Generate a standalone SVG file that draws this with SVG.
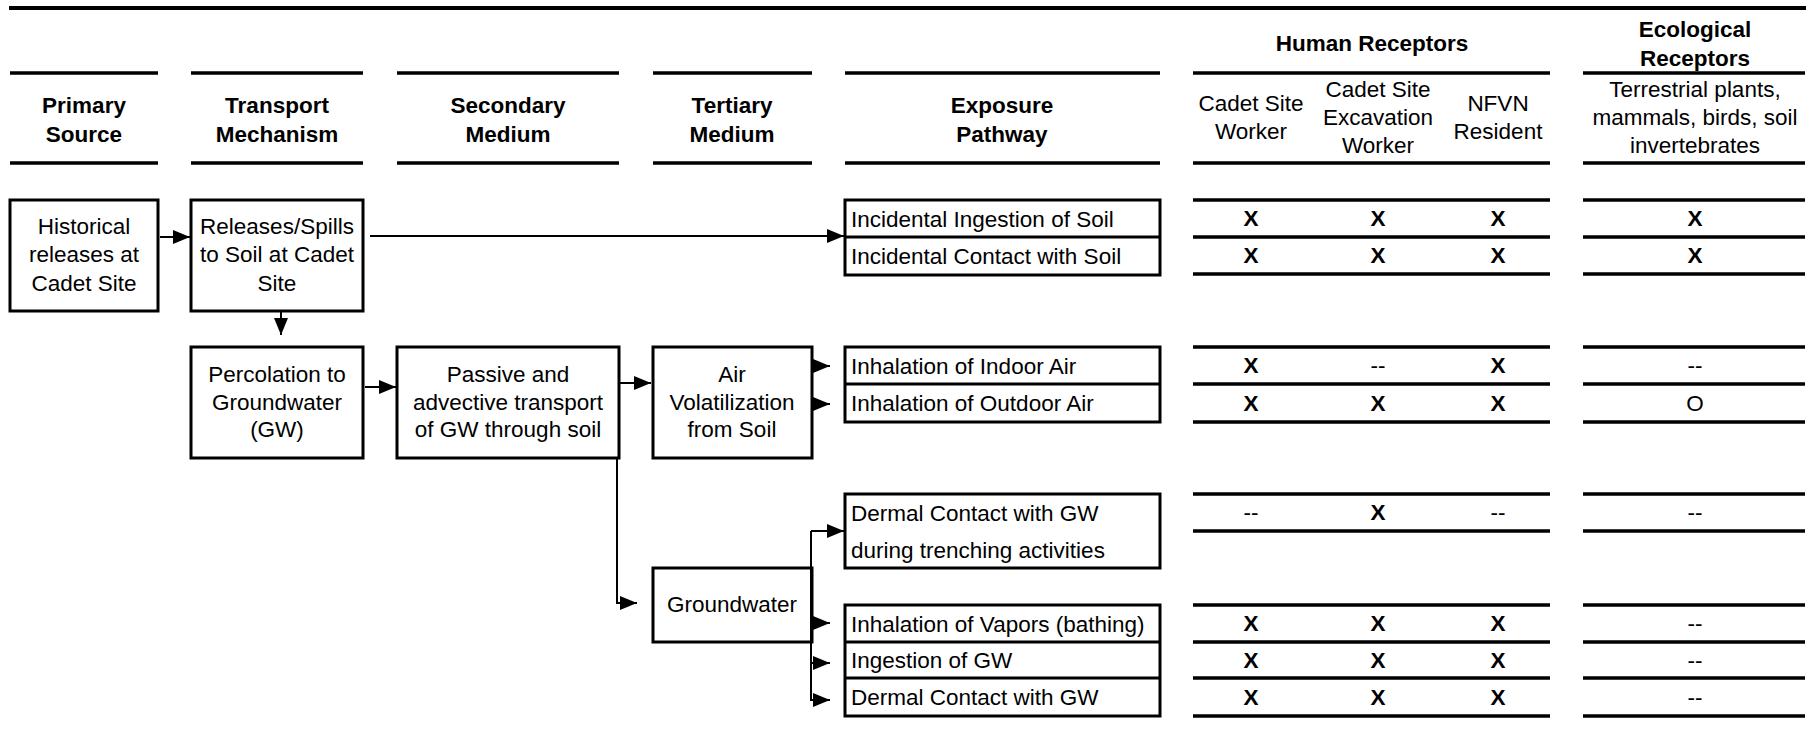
<svg xmlns="http://www.w3.org/2000/svg" width="1810" height="750" viewBox="0 0 1810 750">
  <style>
    text { font-family: "Liberation Sans", Arial, sans-serif; font-size: 22.5px; fill: #000; }
    .b { font-weight: bold; }
    .c { text-anchor: middle; }
    .box { fill: #fff; stroke: #000; stroke-width: 3; }
    .rule { stroke: #000; stroke-width: 4; fill: none; }
    .hline { stroke: #000; stroke-width: 3.5; fill: none; }
    .div { stroke: #000; stroke-width: 3; fill: none; }
    .conn { stroke: #000; stroke-width: 2; fill: none; }
  </style>
  <defs>
    <marker id="arrow" markerUnits="userSpaceOnUse" markerWidth="17" markerHeight="14" refX="17" refY="7" orient="auto">
      <path d="M0,0 L17,7 L0,14 Z" fill="#000"/>
    </marker>
  </defs>
  <rect width="1810" height="750" fill="#fff"/>

  <!-- top rule -->
  <line class="rule" x1="9" y1="8" x2="1806" y2="8"/>

  <!-- column headers -->
  <g id="headers">
    <line class="hline" x1="10" y1="73" x2="158" y2="73"/>
    <line class="hline" x1="10" y1="163" x2="158" y2="163"/>
    <text class="b c" x="84" y="113">Primary</text>
    <text class="b c" x="84" y="142">Source</text>

    <line class="hline" x1="191" y1="73" x2="363" y2="73"/>
    <line class="hline" x1="191" y1="163" x2="363" y2="163"/>
    <text class="b c" x="277" y="113">Transport</text>
    <text class="b c" x="277" y="142">Mechanism</text>

    <line class="hline" x1="397" y1="73" x2="619" y2="73"/>
    <line class="hline" x1="397" y1="163" x2="619" y2="163"/>
    <text class="b c" x="508" y="113">Secondary</text>
    <text class="b c" x="508" y="142">Medium</text>

    <line class="hline" x1="653" y1="73" x2="812" y2="73"/>
    <line class="hline" x1="653" y1="163" x2="812" y2="163"/>
    <text class="b c" x="732" y="113">Tertiary</text>
    <text class="b c" x="732" y="142">Medium</text>

    <line class="hline" x1="845" y1="73" x2="1160" y2="73"/>
    <line class="hline" x1="845" y1="163" x2="1160" y2="163"/>
    <text class="b c" x="1002" y="113">Exposure</text>
    <text class="b c" x="1002" y="142">Pathway</text>

    <text class="b c" x="1372" y="51">Human Receptors</text>
    <line class="hline" x1="1193" y1="73" x2="1550" y2="73"/>
    <line class="hline" x1="1193" y1="163" x2="1550" y2="163"/>
    <text class="c" x="1251" y="111">Cadet Site</text>
    <text class="c" x="1251" y="139">Worker</text>
    <text class="c" x="1378" y="97">Cadet Site</text>
    <text class="c" x="1378" y="125">Excavation</text>
    <text class="c" x="1378" y="153">Worker</text>
    <text class="c" x="1498" y="111">NFVN</text>
    <text class="c" x="1498" y="139">Resident</text>

    <text class="b c" x="1695" y="37">Ecological</text>
    <text class="b c" x="1695" y="66">Receptors</text>
    <line class="hline" x1="1583" y1="73" x2="1805" y2="73"/>
    <line class="hline" x1="1583" y1="163" x2="1805" y2="163"/>
    <text class="c" x="1695" y="97">Terrestrial plants,</text>
    <text class="c" x="1695" y="125">mammals, birds, soil</text>
    <text class="c" x="1695" y="153">invertebrates</text>
  </g>

  <!-- source and transport nodes -->
  <g id="historical-releases">
    <rect class="box" x="10" y="200" width="148" height="111"/>
    <text class="c" x="84" y="234">Historical</text>
    <text class="c" x="84" y="262">releases at</text>
    <text class="c" x="84" y="291">Cadet Site</text>
  </g>
  <g id="releases-spills">
    <rect class="box" x="191" y="200" width="172" height="111"/>
    <text class="c" x="277" y="234">Releases/Spills</text>
    <text class="c" x="277" y="262">to Soil at Cadet</text>
    <text class="c" x="277" y="291">Site</text>
  </g>
  <g id="percolation">
    <rect class="box" x="191" y="347" width="172" height="111"/>
    <text class="c" x="277" y="382">Percolation to</text>
    <text class="c" x="277" y="410">Groundwater</text>
    <text class="c" x="277" y="437">(GW)</text>
  </g>
  <g id="passive-transport">
    <rect class="box" x="397" y="347" width="222" height="111"/>
    <text class="c" x="508" y="382">Passive and</text>
    <text class="c" x="508" y="410">advective transport</text>
    <text class="c" x="508" y="437">of GW through soil</text>
  </g>
  <g id="air-volatilization">
    <rect class="box" x="653" y="347" width="159" height="111"/>
    <text class="c" x="732" y="382">Air</text>
    <text class="c" x="732" y="410">Volatilization</text>
    <text class="c" x="732" y="437">from Soil</text>
  </g>
  <g id="groundwater">
    <rect class="box" x="653" y="568" width="159" height="74"/>
    <text class="c" x="732" y="612">Groundwater</text>
  </g>

  <!-- exposure pathway nodes -->
  <g id="soil-pathways">
    <rect class="box" x="845" y="200" width="315" height="75"/>
    <line class="div" x1="845" y1="237" x2="1160" y2="237"/>
    <text x="851" y="227">Incidental Ingestion of Soil</text>
    <text x="851" y="264">Incidental Contact with Soil</text>
  </g>
  <g id="air-pathways">
    <rect class="box" x="845" y="347" width="315" height="75"/>
    <line class="div" x1="845" y1="384" x2="1160" y2="384"/>
    <text x="851" y="374">Inhalation of Indoor Air</text>
    <text x="851" y="411">Inhalation of Outdoor Air</text>
  </g>
  <g id="trenching-pathway">
    <rect class="box" x="845" y="494" width="315" height="74"/>
    <text x="851" y="521">Dermal Contact with GW</text>
    <text x="851" y="558">during trenching activities</text>
  </g>
  <g id="groundwater-pathways">
    <rect class="box" x="845" y="605" width="315" height="111"/>
    <line class="div" x1="845" y1="642" x2="1160" y2="642"/>
    <line class="div" x1="845" y1="678" x2="1160" y2="678"/>
    <text x="851" y="632">Inhalation of Vapors (bathing)</text>
    <text x="851" y="668">Ingestion of GW</text>
    <text x="851" y="705">Dermal Contact with GW</text>
  </g>

  <!-- connectors -->
  <g id="connectors">
    <line class="conn" x1="160" y1="237" x2="190" y2="237" marker-end="url(#arrow)"/>
    <line class="conn" x1="370" y1="236" x2="844" y2="236" marker-end="url(#arrow)"/>
    <line class="conn" x1="281" y1="311" x2="281" y2="335" marker-end="url(#arrow)"/>
    <line class="conn" x1="365" y1="387" x2="396" y2="387" marker-end="url(#arrow)"/>
    <line class="conn" x1="620" y1="383" x2="651" y2="383" marker-end="url(#arrow)"/>
    <line class="conn" x1="812" y1="366" x2="830" y2="366" marker-end="url(#arrow)"/>
    <line class="conn" x1="812" y1="404" x2="830" y2="404" marker-end="url(#arrow)"/>
    <path class="conn" d="M617,458 V603 H637" marker-end="url(#arrow)"/>
    <path class="conn" d="M811,531 V700 H830" marker-end="url(#arrow)"/>
    <line class="conn" x1="811" y1="531" x2="844" y2="531" marker-end="url(#arrow)"/>
    <line class="conn" x1="811" y1="623" x2="830" y2="623" marker-end="url(#arrow)"/>
    <line class="conn" x1="811" y1="663" x2="830" y2="663" marker-end="url(#arrow)"/>
  </g>

  <!-- receptor table -->
  <g id="receptor-table">
    <g class="rows">
      <path class="hline" d="M1193,200 H1550 M1583,200 H1805 M1193,237 H1550 M1583,237 H1805 M1193,274 H1550 M1583,274 H1805"/>
      <path class="hline" d="M1193,347 H1550 M1583,347 H1805 M1193,384 H1550 M1583,384 H1805 M1193,422 H1550 M1583,422 H1805"/>
      <path class="hline" d="M1193,494 H1550 M1583,494 H1805 M1193,531 H1550 M1583,531 H1805"/>
      <path class="hline" d="M1193,605 H1550 M1583,605 H1805 M1193,642 H1550 M1583,642 H1805 M1193,678 H1550 M1583,678 H1805 M1193,716 H1550 M1583,716 H1805"/>
    </g>
    <g class="marks">
      <text class="b c" x="1251" y="226">X</text><text class="b c" x="1378" y="226">X</text><text class="b c" x="1498" y="226">X</text><text class="b c" x="1695" y="226">X</text>
      <text class="b c" x="1251" y="263">X</text><text class="b c" x="1378" y="263">X</text><text class="b c" x="1498" y="263">X</text><text class="b c" x="1695" y="263">X</text>

      <text class="b c" x="1251" y="373">X</text><text class="c" x="1378" y="373">--</text><text class="b c" x="1498" y="373">X</text><text class="c" x="1695" y="373">--</text>
      <text class="b c" x="1251" y="411">X</text><text class="b c" x="1378" y="411">X</text><text class="b c" x="1498" y="411">X</text><text class="c" x="1695" y="411">O</text>

      <text class="c" x="1251" y="520">--</text><text class="b c" x="1378" y="520">X</text><text class="c" x="1498" y="520">--</text><text class="c" x="1695" y="520">--</text>

      <text class="b c" x="1251" y="631">X</text><text class="b c" x="1378" y="631">X</text><text class="b c" x="1498" y="631">X</text><text class="c" x="1695" y="631">--</text>
      <text class="b c" x="1251" y="668">X</text><text class="b c" x="1378" y="668">X</text><text class="b c" x="1498" y="668">X</text><text class="c" x="1695" y="668">--</text>
      <text class="b c" x="1251" y="705">X</text><text class="b c" x="1378" y="705">X</text><text class="b c" x="1498" y="705">X</text><text class="c" x="1695" y="705">--</text>
    </g>
  </g>
</svg>
